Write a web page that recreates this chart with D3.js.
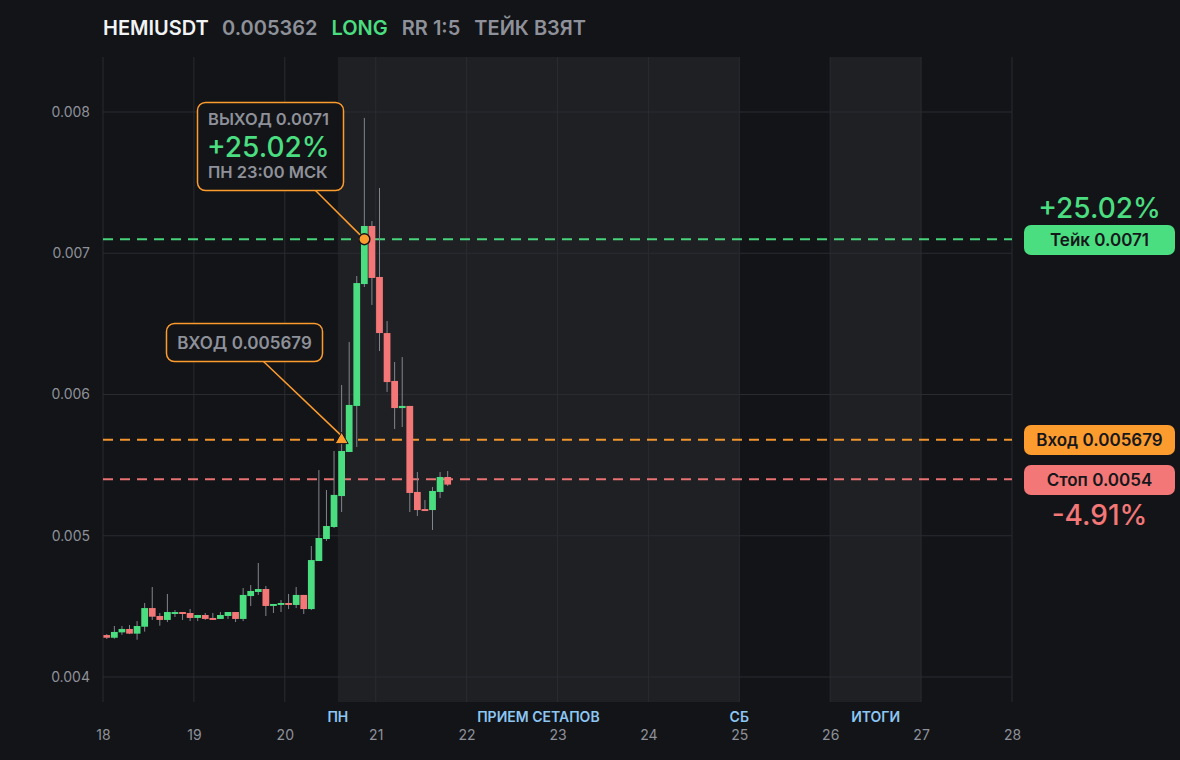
<!DOCTYPE html>
<html>
<head>
<meta charset="utf-8">
<script src="https://cdn.jsdelivr.net/npm/d3@7"></script>
<style>
  body { margin: 0; background: #131418; }
  svg { display: block; font-family: Inter, "Noto Sans", sans-serif; }
</style>
</head>
<body>
<div id="chart"></div>
<script>
// 2h candles starting at day 18 00:00
const dayTicks = [18, 19, 20, 21, 22, 23, 24, 25, 26, 27, 28];
const priceTicks = [0.004, 0.005, 0.006, 0.007, 0.008];

const opens = [0.004297, 0.004278, 0.004316, 0.00434, 0.004307, 0.004356, 0.004488, 0.004432, 0.004404, 0.004446,
  0.00446, 0.004453, 0.004418, 0.004439, 0.004418, 0.004411, 0.004432, 0.00446, 0.004411, 0.004573,
  0.004602, 0.004623, 0.004503, 0.00451, 0.004524, 0.00451, 0.004581, 0.004481, 0.004821, 0.004977,
  0.005062, 0.005281, 0.005593, 0.005919, 0.006782, 0.007193, 0.006832, 0.006435, 0.006096, 0.005904,
  0.005919, 0.00531, 0.005189, 0.005182, 0.00531, 0.005416];
const highs = [0.004304, 0.004361, 0.004361, 0.004368, 0.004396, 0.004524, 0.004637, 0.004453, 0.004588, 0.004474,
  0.00446, 0.004481, 0.004439, 0.004453, 0.004453, 0.00446, 0.00446, 0.00446, 0.00463, 0.004651,
  0.004807, 0.004644, 0.004517, 0.004545, 0.004588, 0.004637, 0.004581, 0.004927, 0.005465, 0.005324,
  0.0056, 0.006067, 0.006372, 0.006839, 0.007958, 0.007228, 0.007462, 0.00652, 0.00623, 0.006265,
  0.005919, 0.005451, 0.005253, 0.005345, 0.005451, 0.005458];
const lows = [0.004269, 0.004271, 0.004299, 0.004304, 0.004264, 0.004321, 0.004404, 0.004363, 0.004389, 0.004425,
  0.004404, 0.004396, 0.004396, 0.004404, 0.004404, 0.004411, 0.004411, 0.004389, 0.004396, 0.004503,
  0.004581, 0.004432, 0.004453, 0.00446, 0.004481, 0.004488, 0.004446, 0.004474, 0.004821, 0.004963,
  0.005055, 0.005168, 0.005593, 0.005628, 0.006761, 0.006634, 0.006308, 0.006018, 0.005756, 0.00577,
  0.005168, 0.00514, 0.005175, 0.005041, 0.005267, 0.005352];
const closes = [0.004278, 0.004319, 0.00434, 0.004307, 0.004361, 0.004488, 0.004427, 0.004404, 0.00446, 0.00446,
  0.004446, 0.004418, 0.004439, 0.004411, 0.004404, 0.004439, 0.00446, 0.004411, 0.004581, 0.004609,
  0.004623, 0.004503, 0.004517, 0.004524, 0.00451, 0.004581, 0.004481, 0.004828, 0.004984, 0.005069,
  0.005289, 0.0056, 0.005926, 0.006789, 0.007193, 0.006825, 0.006435, 0.006088, 0.005904, 0.005919,
  0.005303, 0.005182, 0.005175, 0.005317, 0.005416, 0.005362];

const zoneRanges = [[20.5833, 25], [26, 27]];
const zoneNames = ["ПН", "ПРИЕМ СЕТАПОВ", "СБ", "ИТОГИ"];
const zoneNameDays = [20.5833, 22.79, 25, 26.5];

const levelNames = ["Тейк", "Вход", "Стоп"];
const levelPrices = [0.0071, 0.005679, 0.0054];
const levelLabels = ["0.0071", "0.005679", "0.0054"];

const entryIndex = 31;
const exitIndex = 34;

const green = "#4ade80";
const red = "#f47777";
const orange = "#fd9c2e";
const gray = "#8e9199";
const bg = "#131418";

const width = 1180;
const height = 760;
const plotTop = 57;
const plotBottom = 702;

const candles = opens.map((o, i) => ({
  t: 18 + (i * 2) / 24,
  o: o,
  h: highs[i],
  l: lows[i],
  c: closes[i],
}));

const x = d3.scaleLinear().domain([18, 28]).range([103, 1012]);
const y = d3.scaleLinear().domain([0.004, 0.008]).range([677, 112]);
const step = x(18 + 2 / 24) - x(18);

const svg = d3
  .select("#chart")
  .append("svg")
  .attr("width", width)
  .attr("height", height);

svg.append("rect").attr("width", width).attr("height", height).attr("fill", bg);

// shaded zones
svg
  .selectAll("rect.zone")
  .data(zoneRanges)
  .join("rect")
  .attr("class", "zone")
  .attr("x", (d) => x(d[0]))
  .attr("width", (d) => x(d[1]) - x(d[0]))
  .attr("y", plotTop)
  .attr("height", plotBottom - plotTop)
  .attr("fill", "#1f2024");

// grid
svg
  .selectAll("line.vgrid")
  .data(dayTicks)
  .join("line")
  .attr("class", "vgrid")
  .attr("x1", (d) => x(d))
  .attr("x2", (d) => x(d))
  .attr("y1", plotTop)
  .attr("y2", plotBottom)
  .attr("stroke", "#2a2b30")
  .attr("stroke-width", 1);

svg
  .selectAll("line.hgrid")
  .data(priceTicks)
  .join("line")
  .attr("class", "hgrid")
  .attr("x1", x(18))
  .attr("x2", x(28))
  .attr("y1", (d) => y(d))
  .attr("y2", (d) => y(d))
  .attr("stroke", "#2a2b30")
  .attr("stroke-width", 1);

// axes labels (d3 sets sans-serif on the group, so put Inter back)
const xAxis = svg
  .append("g")
  .attr("transform", `translate(0,${plotBottom})`)
  .call(d3.axisBottom(x).tickValues(dayTicks).tickSize(0).tickPadding(28).tickFormat(d3.format("d")))
  .attr("font-family", null)
  .attr("font-size", 14);
xAxis.select(".domain").remove();
xAxis.selectAll("text").attr("fill", gray);

const yAxis = svg
  .append("g")
  .attr("transform", "translate(90,0)")
  .call(d3.axisLeft(y).tickValues(priceTicks).tickSize(0).tickPadding(0).tickFormat(d3.format(".3f")))
  .attr("font-family", null)
  .attr("font-size", 14);
yAxis.select(".domain").remove();
yAxis.selectAll("text").attr("fill", gray);

svg
  .selectAll("text.zname")
  .data(zoneNames)
  .join("text")
  .attr("class", "zname")
  .attr("x", (d, i) => x(zoneNameDays[i]))
  .attr("y", 722)
  .attr("text-anchor", "middle")
  .attr("font-size", 14)
  .attr("font-weight", 600)
  .attr("fill", "#8cc6f2")
  .text((d) => d);

// level lines
const levelColors = [green, orange, red];
svg
  .selectAll("line.level")
  .data(levelPrices)
  .join("line")
  .attr("class", "level")
  .attr("x1", x(18))
  .attr("x2", x(28))
  .attr("y1", (d) => y(d))
  .attr("y2", (d) => y(d))
  .attr("stroke", (d, i) => levelColors[i])
  .attr("stroke-width", 2)
  .attr("stroke-dasharray", "10 7")
  .attr("opacity", 0.95);

// candles
svg
  .selectAll("line.wick")
  .data(candles)
  .join("line")
  .attr("class", "wick")
  .attr("x1", (d) => x(d.t) + step / 2)
  .attr("x2", (d) => x(d.t) + step / 2)
  .attr("y1", (d) => y(d.h))
  .attr("y2", (d) => y(d.l))
  .attr("stroke", "#83858c")
  .attr("stroke-width", 1);

svg
  .selectAll("rect.body")
  .data(candles)
  .join("rect")
  .attr("class", "body")
  .attr("x", (d) => x(d.t) + 0.4)
  .attr("width", step - 0.8)
  .attr("y", (d) => y(Math.max(d.o, d.c)))
  .attr("height", (d) => Math.max(1.5, Math.abs(y(d.o) - y(d.c))))
  .attr("fill", (d) => (d.c >= d.o ? green : red));

// annotations
const entryX = x(candles[entryIndex].t) + step / 2;
const entryY = y(levelPrices[1]);
const exitX = x(candles[exitIndex].t) + step / 2;
const exitY = y(levelPrices[0]);

svg
  .append("line")
  .attr("x1", 263)
  .attr("y1", 361)
  .attr("x2", entryX)
  .attr("y2", entryY - 4)
  .attr("stroke", orange)
  .attr("stroke-width", 1.5);

svg
  .append("line")
  .attr("x1", 315)
  .attr("y1", 190)
  .attr("x2", exitX)
  .attr("y2", exitY)
  .attr("stroke", orange)
  .attr("stroke-width", 1.5);

svg
  .append("path")
  .attr("d", d3.symbol(d3.symbolTriangle, 75))
  .attr("transform", `translate(${entryX},${entryY})`)
  .attr("fill", orange)
  .attr("stroke", bg)
  .attr("stroke-width", 1);

svg
  .append("circle")
  .attr("cx", exitX)
  .attr("cy", exitY)
  .attr("r", 5.5)
  .attr("fill", orange)
  .attr("stroke", bg)
  .attr("stroke-width", 1.5);

// entry box
svg
  .append("rect")
  .attr("x", 166.5)
  .attr("y", 323.5)
  .attr("width", 156)
  .attr("height", 38)
  .attr("rx", 8)
  .attr("fill", bg)
  .attr("stroke", orange)
  .attr("stroke-width", 1.5);

svg
  .append("text")
  .attr("x", 244.5)
  .attr("y", 348.5)
  .attr("text-anchor", "middle")
  .attr("font-size", 17)
  .attr("font-weight", 600)
  .attr("fill", gray)
  .text("ВХОД " + levelLabels[1]);

// exit box
svg
  .append("rect")
  .attr("x", 197.5)
  .attr("y", 102.5)
  .attr("width", 146)
  .attr("height", 88)
  .attr("rx", 8)
  .attr("fill", bg)
  .attr("stroke", orange)
  .attr("stroke-width", 1.5);

const exitText = svg.append("g").attr("font-weight", 600);
exitText
  .append("text")
  .attr("x", 208)
  .attr("y", 125)
  .attr("font-size", 16.5)
  .attr("fill", gray)
  .text("ВЫХОД " + levelLabels[0]);
exitText
  .append("text")
  .attr("x", 207)
  .attr("y", 157)
  .attr("font-size", 28)
  .attr("font-weight", 500)
  .attr("fill", green)
  .text("+25.02%");
exitText
  .append("text")
  .attr("x", 208)
  .attr("y", 178)
  .attr("font-size", 16.5)
  .attr("fill", gray)
  .text("ПН 23:00 МСК");

// right side level tags
const tagY = [225, 425, 465];
svg
  .selectAll("rect.tag")
  .data(levelPrices)
  .join("rect")
  .attr("class", "tag")
  .attr("x", 1024)
  .attr("y", (d, i) => tagY[i])
  .attr("width", 151)
  .attr("height", 30)
  .attr("rx", 7)
  .attr("fill", (d, i) => levelColors[i]);

svg
  .selectAll("text.tag")
  .data(levelPrices)
  .join("text")
  .attr("class", "tag")
  .attr("x", 1099.5)
  .attr("y", (d, i) => tagY[i] + 21)
  .attr("text-anchor", "middle")
  .attr("font-size", 17)
  .attr("font-weight", 600)
  .attr("fill", "#16171b")
  .text((d, i) => levelNames[i] + " " + levelLabels[i]);

svg
  .append("text")
  .attr("x", 1099.5)
  .attr("y", 218)
  .attr("text-anchor", "middle")
  .attr("font-size", 28)
  .attr("font-weight", 500)
  .attr("fill", green)
  .text("+25.02%");

svg
  .append("text")
  .attr("x", 1099.5)
  .attr("y", 525)
  .attr("text-anchor", "middle")
  .attr("font-size", 28)
  .attr("font-weight", 500)
  .attr("fill", red)
  .text("-4.91%");

// header
const header = svg
  .append("text")
  .attr("x", 103)
  .attr("y", 35)
  .attr("font-size", 20)
  .attr("font-weight", 600);
header.append("tspan").attr("fill", "#f2f3f5").text("HEMIUSDT");
header.append("tspan").attr("dx", 14).attr("fill", gray).text(closes[closes.length - 1].toFixed(6));
header.append("tspan").attr("dx", 14).attr("fill", green).text("LONG");
header.append("tspan").attr("dx", 14).attr("fill", gray).text("RR 1:5");
header.append("tspan").attr("dx", 14).attr("fill", gray).text("ТЕЙК ВЗЯТ");
</script>
</body>
</html>
